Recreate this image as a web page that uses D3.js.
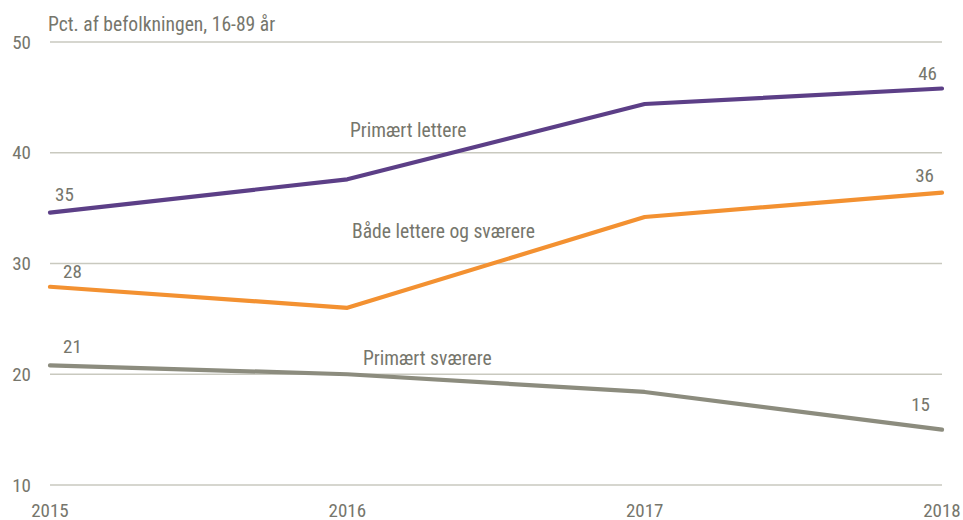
<!DOCTYPE html>
<html><head><meta charset="utf-8">
<script src="https://cdn.jsdelivr.net/npm/d3@7"></script>
<style>
body{margin:0;background:#fff;}
svg{display:block;}
text{font-family:"Liberation Sans Narrow","Arial Narrow","Roboto Condensed","Liberation Sans",sans-serif;fill:#76766c;}
</style></head>
<body>
<svg id="chart" width="963" height="520"></svg>
<script>
const years = [2015, 2016, 2017, 2018];
const seriesNames = ["Primært lettere", "Både lettere og sværere", "Primært sværere"];
const primaertLettere = [34.6, 37.6, 44.4, 45.8];
const baadeLettereOgSvaerere = [27.9, 26.0, 34.2, 36.4];
const primaertSvaerere = [20.8, 20.0, 18.4, 15.0];
const firstLabels = ["35", "28", "21"];
const lastLabels = ["46", "36", "15"];
const yTicks = [10, 20, 30, 40, 50];
const yTitle = "Pct. af befolkningen, 16-89 år";
const colors = ["#5c3f87", "#f39131", "#8c8c7e"];

const svg = d3.select("#chart");
const x = d3.scaleLinear().domain([2015, 2018]).range([50, 942]);
const y = d3.scaleLinear().domain([10, 50]).range([485, 42]);

svg.append("g").selectAll("line").data(yTicks).join("line")
  .attr("x1", x(2015)).attr("x2", x(2018))
  .attr("y1", d => y(d)).attr("y2", d => y(d))
  .attr("stroke", "#c9c9bf").attr("stroke-width", 1.3);

svg.append("g").selectAll("text").data(yTicks).join("text")
  .attr("x", 31).attr("y", d => y(d)).attr("dy", "0.35em")
  .attr("text-anchor", "end").attr("font-size", 19).text(d => d);

svg.append("g").selectAll("text").data(years).join("text")
  .attr("x", d => x(d)).attr("y", 516.5)
  .attr("text-anchor", "middle").attr("font-size", 19).text(d => d);

svg.append("text").attr("x", 48).attr("y", 31).attr("font-size", 19.6).text(yTitle);

const data = [primaertLettere, baadeLettereOgSvaerere, primaertSvaerere];
const line = d3.line().x((d, i) => x(years[i])).y(d => y(d));

data.forEach((vals, k) => {
  svg.append("path").attr("d", line(vals))
    .attr("fill", "none").attr("stroke", colors[k])
    .attr("stroke-width", 4.2).attr("stroke-linejoin", "round").attr("stroke-linecap", "round");
});

const firstOffsets = [[5, -12], [13, -9], [13, -12]];
data.forEach((vals, k) => {
  svg.append("text").attr("x", x(years[0]) + firstOffsets[k][0]).attr("y", y(vals[0]) + firstOffsets[k][1])
    .attr("font-size", 19).text(firstLabels[k]);
});
const lastOffsets = [[-5, -9], [-8, -11], [-12, -19]];
data.forEach((vals, k) => {
  svg.append("text").attr("x", x(years[3]) + lastOffsets[k][0]).attr("y", y(vals[3]) + lastOffsets[k][1])
    .attr("text-anchor", "end").attr("font-size", 19).text(lastLabels[k]);
});

const seriesLabelPos = [[350, 137], [352, 238], [363, 365]];
seriesNames.forEach((n, k) => {
  svg.append("text").attr("x", seriesLabelPos[k][0]).attr("y", seriesLabelPos[k][1])
    .attr("font-size", 19.6).text(n);
});
</script>
</body></html>
